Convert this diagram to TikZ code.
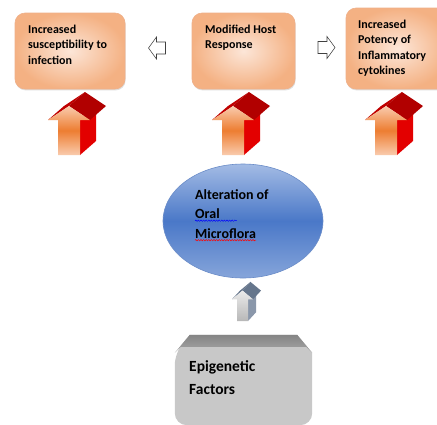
\documentclass[tikz,border=0pt]{standalone}
\usepackage{fontspec}
\setmainfont{Carlito}
\usetikzlibrary{positioning,calc,shapes.geometric,shadows,decorations.pathmorphing}

\definecolor{peachdark}{HTML}{F4B183}
\definecolor{peachlight}{HTML}{FCE6D8}
\definecolor{peachline}{HTML}{EFB089}
\definecolor{arrorange}{HTML}{ED7D31}
\definecolor{arrpale}{HTML}{F9CBAD}
\definecolor{redtop}{HTML}{C00000}
\definecolor{redside}{HTML}{E30000}
\definecolor{balltop}{HTML}{A3BBE4}
\definecolor{ballmid}{HTML}{4A78C8}
\definecolor{ballbot}{HTML}{86A5DA}
\definecolor{ballline}{HTML}{6A8CC8}
\definecolor{slatetop}{HTML}{66768C}
\definecolor{slateside}{HTML}{8A97AA}
\definecolor{epigrey}{HTML}{C8C8C8}
\definecolor{epitop}{HTML}{A6A6A6}

\begin{document}
\begin{tikzpicture}[x=1pt, y=-1pt,
  pinkbox/.style={rectangle, rounded corners=10pt, draw=peachline, line width=0.6pt,
    shading=radial, inner color=peachlight, outer color=peachdark,
    drop shadow={shadow xshift=0.6pt, shadow yshift=-1.4pt, opacity=0.25}},
  boxtext/.style={anchor=north west, align=left, inner sep=0pt, font=\fontsize{12}{15.5}\selectfont\bfseries},
  flortext/.style={anchor=base west, inner sep=0pt, font=\fontsize{14}{19}\selectfont\bfseries},
  spellwave/.style={decorate, decoration={snake, amplitude=0.7pt, segment length=2.6pt}, line width=0.45pt},
  epitext/.style={anchor=north west, align=left, inner sep=0pt, font=\fontsize{15.5}{23}\selectfont\bfseries},
  arrfront/.style={top color=arrpale, bottom color=arrpale, middle color=arrorange},
  arrtop/.style={fill=redtop},
  arrtopr/.style={fill=redtop!92!black},
  arrside/.style={fill=redside},
  uparr/.pic={
    \fill[arrside] (11,0) -- (11,-35) -- (27,-49) -- (27,-14) -- cycle;
    \fill[arrtop] (-21,-35) -- (0,-49) -- (16,-63) -- (-5,-49) -- cycle;
    \fill[arrtopr] (0,-49) -- (21,-35) -- (37,-49) -- (16,-63) -- cycle;
    \shade[arrfront] (-11,0) -- (11,0) -- (11,-35) -- (21,-35) -- (0,-49) -- (-21,-35) -- (-11,-35) -- cycle;
  },
  hollowarr/.pic={
    \draw[black!75, fill=white, line width=0.55pt, line join=miter]
      (8.5,0) -- (0.5,-11) -- (0.5,-6) -- (-8.5,-6) -- (-8.5,6) -- (0.5,6) -- (0.5,11) -- cycle;
  }]
\useasboundingbox (0,0) rectangle (437,424);
\clip (0,0) rectangle (437,424);
\fill[white] (0,0) rectangle (437,424);

% top row of boxes
\node[pinkbox, minimum width=110pt, minimum height=76pt] (infect) at (70,51) {};
\node[pinkbox, minimum width=103pt, minimum height=76pt] (hostresp) at (243.5,51) {};
\node[pinkbox, minimum width=104pt, minimum height=81pt] (cytok) at (398,48.5) {};
\node[boxtext] (infecttxt) at (28,24.5) {Increased\\susceptibility to\\infection};
\node[boxtext] (hosttxt) at (205,24.5) {Modified Host\\Response};
\node[boxtext] (cytoktxt) at (358,19.5) {Increased\\Potency of\\Inflammatory\\cytokines};

% small hollow arrows
\pic[rotate=180] at (157,48) {hollowarr};
\pic at (326.5,47.5) {hollowarr};

% 3d arrows
\pic at (69,155) {uparr};
\pic at (233,155) {uparr};
\pic at (386,155) {uparr};

% microflora
\node[ellipse, minimum width=160pt, minimum height=114pt, draw=ballline, line width=0.6pt,
  top color=balltop, bottom color=ballbot, middle color=ballmid] (flora) at (243,221) {};
\node[flortext] (alter) at (195,199) {Alteration of};
\node[flortext] (oral) at (195,218.5) {Oral};
\node[flortext] (micro) at (195,238) {Microflora};
\draw[spellwave, draw=blue] ([yshift=-2.2pt]oral.base west) -- ([xshift=17pt, yshift=-2.2pt]oral.base east);
\draw[spellwave, draw=red] ([yshift=-2.2pt]micro.base west) -- ([yshift=-2.2pt]micro.base east);

\pic[xscale=0.5, yscale=0.62,
  arrfront/.style={top color=black!8, bottom color=black!28},
  arrtop/.style={fill=slatetop}, arrtopr/.style={fill=slatetop},
  arrside/.style={fill=slateside}] at (242.5,321) {uparr};

% epigenetic factors
\node[minimum width=137pt, minimum height=90pt, inner sep=0pt] (epig) at (243.5,380) {};
\fill[epigrey] ($(epig.north west)+(0,18)$) -- ($(epig.north west)+(15,0)$) -- ($(epig.north east)+(-15,0)$)
  -- ($(epig.north east)+(0,18)$) [rounded corners=12pt] -- (epig.south east) -- (epig.south west) -- cycle;
\shade[top color=epitop!80!black, bottom color=epitop] ($(epig.north west)+(0,18)$) -- ($(epig.north west)+(15,0)$)
  -- ($(epig.north east)+(-15,0)$) -- ($(epig.north east)+(0,18)$) -- ($(epig.north east)+(-6,12)$)
  -- ($(epig.north west)+(6,12)$) -- cycle;
\node[epitext] (epitxt) at (189,360) {Epigenetic\\Factors};
\end{tikzpicture}
\end{document}
